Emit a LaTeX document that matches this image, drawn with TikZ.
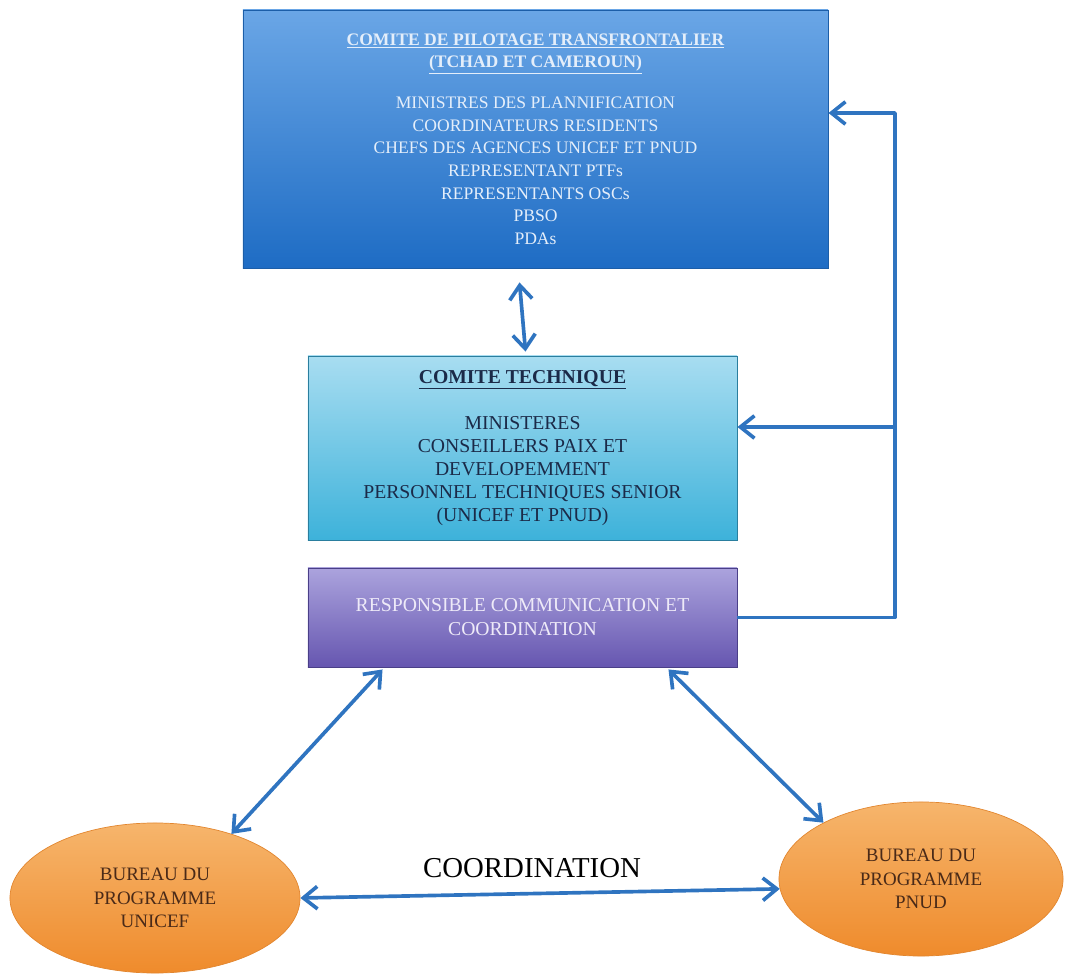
\documentclass[tikz,border=0pt]{standalone}
\usepackage{fontspec}
\setmainfont{Liberation Serif}
\usetikzlibrary{arrows.meta,calc,shapes.geometric}

\definecolor{arrowblue}{HTML}{2F74C0}
\definecolor{pilottop}{HTML}{6AA6E6}
\definecolor{pilotbottom}{HTML}{1E6CC4}
\definecolor{pilotedge}{HTML}{1C5EA8}
\definecolor{pilottext}{HTML}{E4EEFA}
\definecolor{techtop}{HTML}{A8DDF1}
\definecolor{techbottom}{HTML}{3DB2DA}
\definecolor{techedge}{HTML}{2A7E9E}
\definecolor{techtext}{HTML}{1B2A48}
\definecolor{resptop}{HTML}{ABA3DD}
\definecolor{respbottom}{HTML}{6656B0}
\definecolor{respedge}{HTML}{4A3F88}
\definecolor{resptext}{HTML}{EEEAF8}
\definecolor{officetop}{HTML}{F6B56C}
\definecolor{officebottom}{HTML}{EF8B2C}
\definecolor{officeedge}{HTML}{E2862F}
\definecolor{officetext}{HTML}{4A2A18}

\begin{document}
\begin{tikzpicture}[x=0.025cm, y=-0.025cm,
    box/.style={rectangle, align=center, inner sep=0pt, line width=0.6pt},
    office/.style={ellipse, draw=officeedge, line width=0.5pt, align=center, inner sep=0pt,
      top color=officetop, bottom color=officebottom, text=officetext,
      font=\fontsize{13.5}{16.5}\selectfont},
    link/.style={draw=arrowblue, line width=2.6pt, line join=round,
      -{Straight Barb[length=10pt,width=16pt]}},
    twoway/.style={link, {Straight Barb[length=10pt,width=16pt]}-{Straight Barb[length=10pt,width=16pt]}}]

  \useasboundingbox (0,0) rectangle (1065,977);

  % Steering committee
  \node[box, draw=pilotedge, top color=pilottop, bottom color=pilotbottom,
    minimum width=14.625cm, minimum height=6.45cm, text=pilottext,
    font=\fontsize{12.5}{16.1}\selectfont] (pilot) at (535.5,139)
    {\textbf{\underline{COMITE DE PILOTAGE TRANSFRONTALIER}}\\
     \textbf{\underline{(TCHAD ET CAMEROUN)}}\\[13pt]
     MINISTRES DES PLANNIFICATION\\
     COORDINATEURS RESIDENTS\\
     CHEFS DES AGENCES UNICEF ET PNUD\\
     REPRESENTANT PTFs\\
     REPRESENTANTS OSCs\\
     PBSO\\
     PDAs};

  % Technical committee
  \node[box, draw=techedge, top color=techtop, bottom color=techbottom,
    minimum width=10.725cm, minimum height=4.6cm, text=techtext,
    font=\fontsize{14}{16.4}\selectfont] (tech) at (522.5,448)
    {\textbf{\underline{COMITE TECHNIQUE}}\\[16.3pt]
     MINISTERES\\
     CONSEILLERS PAIX ET\\
     DEVELOPEMMENT\\
     PERSONNEL TECHNIQUES SENIOR\\
     (UNICEF ET PNUD)};

  % Communication officer
  \node[box, draw=respedge, top color=resptop, bottom color=respbottom,
    minimum width=10.725cm, minimum height=2.475cm, text=resptext,
    font=\fontsize{14}{17}\selectfont] (resp) at (522.5,617.5)
    {RESPONSIBLE COMMUNICATION ET\\
     COORDINATION};

  % Programme offices
  \node[office, minimum width=7.25cm, minimum height=3.75cm] (unicef) at (155,898)
    {BUREAU DU\\PROGRAMME\\UNICEF};
  \node[office, minimum width=7.1cm, minimum height=3.85cm] (pnud) at (921,879)
    {BUREAU DU\\PROGRAMME\\PNUD};

  \node[font=\fontsize{20.5}{24}\selectfont] (coordlbl) at (532,868) {COORDINATION};

  % Feedback line on the right
  \coordinate (vtop) at (895,113);
  \coordinate (vmid) at (895,427);
  \draw[link] (resp.east) -| (vtop) -- (vtop -| pilot.east);
  \draw[link] (vmid) -- (vmid -| tech.east);

  % Two-way links
  \draw[twoway] ($(pilot.south)+(-16,14)$) -- ($(tech.north)+(3,-4)$);
  \draw[twoway] ($(resp.south west)+(75,2)$) -- (unicef.40);
  \draw[twoway] ($(resp.south east)+(-69,2)$) -- (pnud.150);
  \draw[twoway] (unicef.east) -- (pnud.184);
\end{tikzpicture}
\end{document}
